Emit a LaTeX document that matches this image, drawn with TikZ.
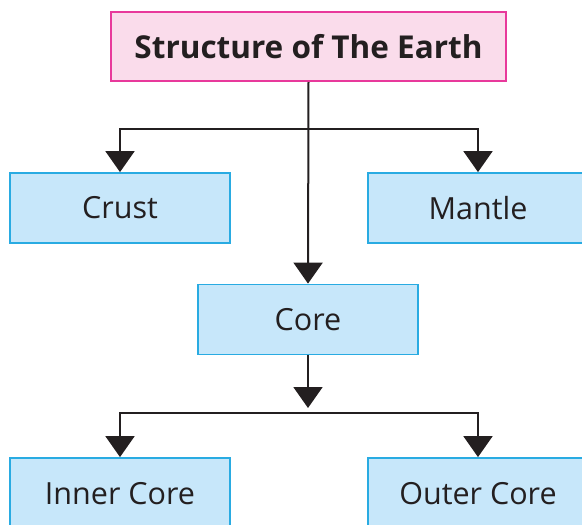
\documentclass[tikz,border=0pt]{standalone}
\usepackage{fontspec}
\setmainfont{Open Sans}
\usetikzlibrary{arrows.meta}
\definecolor{pinkfill}{HTML}{FADCEB}
\definecolor{pinkline}{HTML}{E8399B}
\definecolor{bluefill}{HTML}{C7E7FA}
\definecolor{blueline}{HTML}{29ABE2}
\definecolor{ink}{HTML}{231F20}
\tikzset{
  titlebox/.style={draw=pinkline, fill=pinkfill, line width=2pt, minimum width=395pt, minimum height=69pt, inner sep=0pt, font=\fontsize{31.5}{36}\selectfont\bfseries, text=ink},
  partbox/.style={draw=blueline, fill=bluefill, line width=1.8pt, minimum width=220pt, minimum height=70pt, inner sep=0pt, font=\fontsize{30.5}{36}\selectfont, text=ink},
  conn/.style={draw=ink, line width=2pt},
  arr/.style={conn, -{Triangle[width=29pt,length=21pt]}},
}
\begin{document}
\begin{tikzpicture}[x=1pt,y=-1pt]
\useasboundingbox (0,0) rectangle (582,525);
\clip (0,0) rectangle (582,525);
\node[titlebox] (title) at (308.5,46.5) {Structure of The Earth};
\node[partbox] (crust) at (120,208) {Crust};
\node[partbox] (mantle) at (478,208) {Mantle};
\node[partbox] (core) at (308,319.5) {Core};
\node[partbox, minimum height=72pt] (inner) at (120,494) {Inner Core};
\node[partbox, minimum height=72pt] (outer) at (478,494) {Outer Core};
\coordinate (jl) at (120,129);
\coordinate (jr) at (478,129);
\coordinate (jc) at (308,129);
\coordinate (kl) at (120,413);
\coordinate (kr) at (478,413);
\coordinate (kt) at (308,408);
% top level
\draw[arr] (title.south) -- (core.north);
\draw[conn] ([xshift=-1pt]jl) -- ([xshift=1pt]jr);
\draw[arr] ([yshift=-1pt]jl) -- (crust.north);
\draw[arr] ([yshift=-1pt]jr) -- (mantle.north);
% core level
\draw[arr] (core.south) -- (kt);
\draw[conn] ([xshift=-1pt]kl) -- ([xshift=1pt]kr);
\draw[arr] ([yshift=-1pt]kl) -- (inner.north);
\draw[arr] ([yshift=-1pt]kr) -- (outer.north);
\end{tikzpicture}
\end{document}
